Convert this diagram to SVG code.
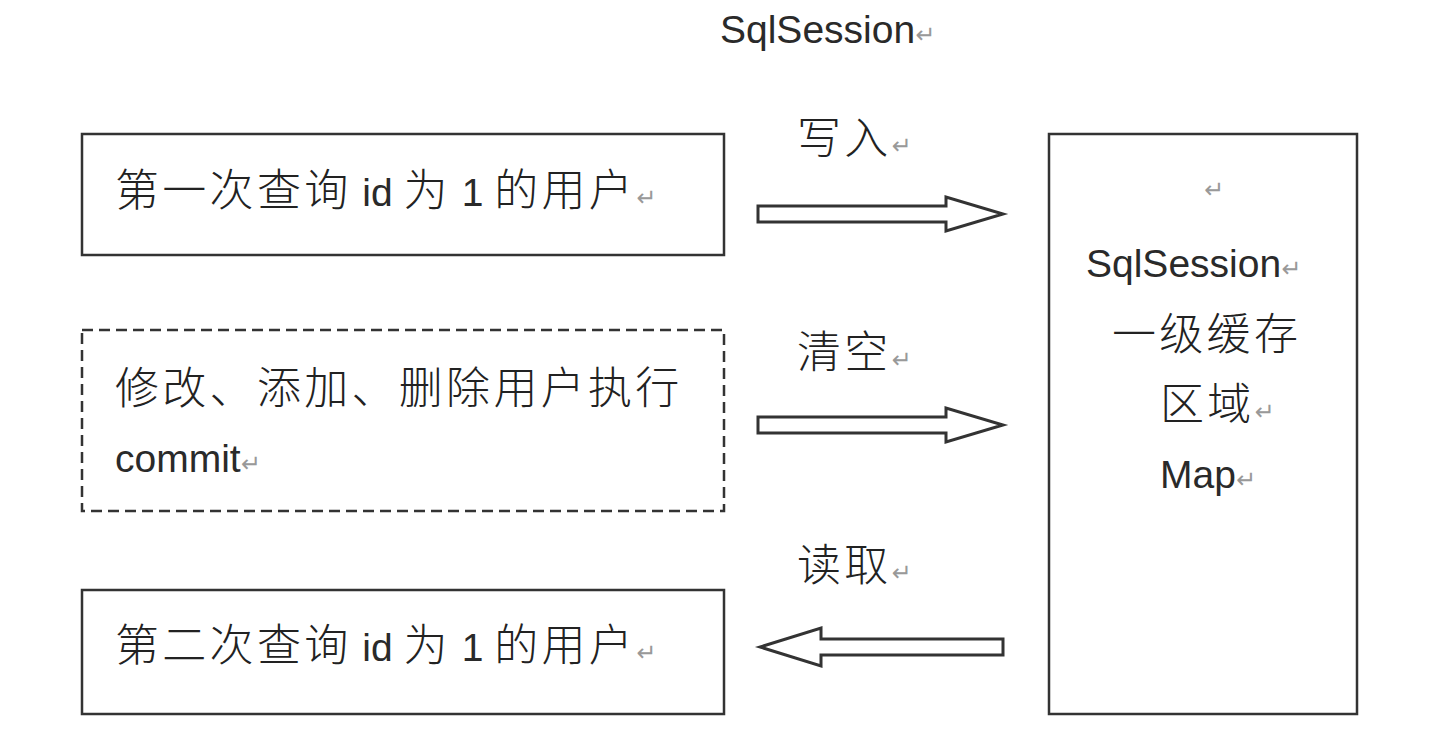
<svg xmlns="http://www.w3.org/2000/svg" width="1434" height="730" viewBox="0 0 1434 730">
<style>
.box{fill:#fff;stroke:#333;stroke-width:2.5}
.dash{stroke-dasharray:11 6}
.cjk{font-family:"Noto Sans CJK SC","Liberation Sans",sans-serif;font-size:44px;font-weight:300;fill:#222;letter-spacing:3.3px}
.lat{font-family:"Liberation Sans","Noto Sans CJK SC",sans-serif;font-size:39px;font-weight:normal;fill:#2a2a2a;letter-spacing:0}
.rm{font-family:"DejaVu Sans",sans-serif;font-size:24px;font-weight:normal;fill:#999;letter-spacing:0}
.arrow{fill:#fff;stroke:#333;stroke-width:3;stroke-linejoin:miter}
</style>
<rect width="1434" height="730" fill="#fff"/>
<g id="title">
<text class="lat" x="720" y="43">SqlSession<tspan class="rm">↵</tspan></text>
</g>
<g id="node-first-query">
<rect class="box" x="82" y="134" width="642" height="121"/>
<text class="cjk" x="115" y="206">第一次查询<tspan class="lat"> id </tspan>为<tspan class="lat"> 1 </tspan>的用户<tspan class="rm">↵</tspan></text>
</g>
<g id="node-modify">
<rect class="box dash" x="82" y="330" width="642" height="181"/>
<text class="cjk" x="115" y="404">修改、添加、删除用户执行</text>
<text class="lat" x="115" y="472">commit<tspan class="rm">↵</tspan></text>
</g>
<g id="node-second-query">
<rect class="box" x="82" y="590" width="642" height="124"/>
<text class="cjk" x="115" y="661">第二次查询<tspan class="lat"> id </tspan>为<tspan class="lat"> 1 </tspan>的用户<tspan class="rm">↵</tspan></text>
</g>
<g id="node-cache">
<rect class="box" x="1049" y="134" width="308" height="580"/>
<text class="rm" x="1204" y="198">↵</text>
<text class="lat" x="1086" y="277">SqlSession<tspan class="rm">↵</tspan></text>
<text class="cjk" x="1112" y="350">一级缓存</text>
<text class="cjk" x="1160" y="420">区域<tspan class="rm">↵</tspan></text>
<text class="lat" x="1160" y="488">Map<tspan class="rm">↵</tspan></text>
</g>
<g id="connectors">
<polygon class="arrow" points="758,206 946,206 946,197 1003,214 946,231 946,222 758,222"/>
<text class="cjk" x="797" y="154">写入<tspan class="rm">↵</tspan></text>
<polygon class="arrow" points="758,417 946,417 946,408 1003,425 946,442 946,433 758,433"/>
<text class="cjk" x="797" y="368">清空<tspan class="rm">↵</tspan></text>
<polygon class="arrow" points="1003,639 821,639 821,628 760,647 821,666 821,655 1003,655"/>
<text class="cjk" x="797" y="581">读取<tspan class="rm">↵</tspan></text>
</g>
</svg>
